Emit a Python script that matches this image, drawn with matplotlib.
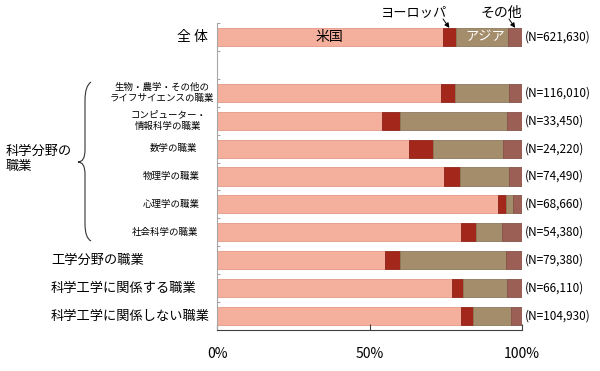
import matplotlib.pyplot as plt
import matplotlib.transforms as mtransforms
from matplotlib.path import Path
from matplotlib.patches import PathPatch

plt.rcParams['font.family'] = ['Noto Sans CJK JP', 'DejaVu Sans']

# data (percent shares)
rows = ['全 体',
        '生物・農学・その他の\nライフサイエンスの職業',
        'コンピューター・\n情報科学の職業',
        '数学の職業',
        '物理学の職業',
        '心理学の職業',
        '社会科学の職業',
        '工学分野の職業',
        '科学工学に関係する職業',
        '科学工学に関係しない職業']
us = [74.0, 73.5, 54.0, 63.1, 74.5, 92.2, 79.9, 55.1, 76.9, 80.0]
europe = [4.4, 4.5, 6.1, 7.7, 5.3, 2.6, 4.9, 5.0, 3.6, 3.8]
asia = [17.1, 17.8, 35.1, 23.1, 16.0, 2.1, 8.7, 34.7, 14.7, 12.6]
other = [4.5, 4.2, 4.8, 6.1, 4.2, 3.1, 6.5, 5.2, 4.8, 3.6]
n_labels = ['(N=621,630)', '(N=116,010)', '(N=33,450)', '(N=24,220)',
            '(N=74,490)', '(N=68,660)', '(N=54,380)', '(N=79,380)',
            '(N=66,110)', '(N=104,930)']
group_label = '科学分野の\n職業'
xticks = [0, 50, 100]
xtick_labels = ['0%', '50%', '100%']

# row slots: total on top, one empty slot, then the rest
ypos = [0] + list(range(2, len(rows) + 1))

c_us, c_eu, c_as, c_ot = '#F5B09D', '#A3271B', '#A38D6B', '#9B5F55'

fig = plt.figure(figsize=(6, 3.71), dpi=100)
ax = fig.add_axes([217 / 600, 1 - 330 / 371, 305 / 600, 307 / 371])

h = 0.65
ax.barh(ypos, us, height=h, color=c_us, edgecolor='#E39A86', linewidth=0.6)
left = us
ax.barh(ypos, europe, left=left, height=h, color=c_eu, edgecolor='#8E2218', linewidth=0.6)
left = [a + b for a, b in zip(us, europe)]
ax.barh(ypos, asia, left=left, height=h, color=c_as, edgecolor='#8E7A5C', linewidth=0.6)
left = [a + b for a, b in zip(left, asia)]
ax.barh(ypos, other, left=left, height=h, color=c_ot, edgecolor='#86514A', linewidth=0.6)

ax.set_xlim(0, 100)
ax.set_ylim(len(rows) + 0.5, -0.5)

for y, lab in zip(ypos, n_labels):
    ax.text(100.8, y, lab, va='center', ha='left', fontsize=8.5, clip_on=False)

# labels inside / above the total bar
ax.text(37, 0, '米国', ha='center', va='center', fontsize=10)
ax.text(us[0] + europe[0] + asia[0] / 2 + 1, 0, 'アジア', ha='center', va='center',
        fontsize=9.5, color='white')
fig.text(414 / 600, 1 - 13 / 371, 'ヨーロッパ', ha='center', va='center', fontsize=9.5)
fig.text(501 / 600, 1 - 13 / 371, 'その他', ha='center', va='center', fontsize=10)
arrow = dict(arrowstyle='-|>', color='black', lw=0.7, mutation_scale=7,
             shrinkA=0, shrinkB=0)
ax.annotate('', xy=(us[0] + europe[0] / 2, -h / 2), xycoords='data',
            xytext=(443, 371 - 19), textcoords='figure pixels', arrowprops=arrow)
ax.annotate('', xy=(100 - other[0] / 2, -h / 2), xycoords='data',
            xytext=(509, 371 - 19), textcoords='figure pixels', arrowprops=arrow)

# row labels
trans = mtransforms.blended_transform_factory(fig.transFigure, ax.transData)
sub_x = [162, 168, 173, 171, 171, 165]
ax.text(208 / 600, ypos[0], rows[0], transform=trans, ha='right', va='center', fontsize=10)
for i in range(1, 7):
    ax.text(sub_x[i - 1] / 600, ypos[i], rows[i], transform=trans, ha='center',
            va='center', fontsize=6.8, linespacing=1.35)
for i in range(7, len(rows)):
    ax.text(51 / 600, ypos[i], rows[i], transform=trans, ha='left', va='center',
            fontsize=9.5)
fig.text(6 / 600, 1 - 159 / 371, group_label, ha='left', va='center', fontsize=9.5,
         linespacing=1.15)

# curly brace
pts = [(91, 82), (85, 86), (85, 100), (85, 150), (85, 162), (78, 162),
       (85, 162), (85, 174), (85, 224), (85, 238), (91, 241)]
codes = [Path.MOVETO, Path.CURVE3, Path.CURVE3, Path.LINETO, Path.CURVE3, Path.CURVE3,
         Path.CURVE3, Path.CURVE3, Path.LINETO, Path.CURVE3, Path.CURVE3]
verts = [(x / 600, 1 - y / 371) for x, y in pts]
fig.patches.append(PathPatch(Path(verts, codes), transform=fig.transFigure,
                             fill=False, lw=0.8, edgecolor='#333333'))

# axes styling
ax.spines['top'].set_visible(False)
ax.spines['right'].set_visible(False)
ax.spines['left'].set_color('#A6A6A6')
ax.spines['bottom'].set_color('#404040')
ax.set_yticks([y - 0.5 for y in range(len(rows) + 2)])
ax.set_yticklabels([])
ax.tick_params(axis='y', direction='in', length=2, color='#A6A6A6')
ax.set_xticks(xticks)
ax.set_xticklabels(xtick_labels, fontsize=10)
ax.tick_params(axis='x', direction='in', length=4, color='#404040', pad=12)

fig.savefig('out.png', dpi=100)
